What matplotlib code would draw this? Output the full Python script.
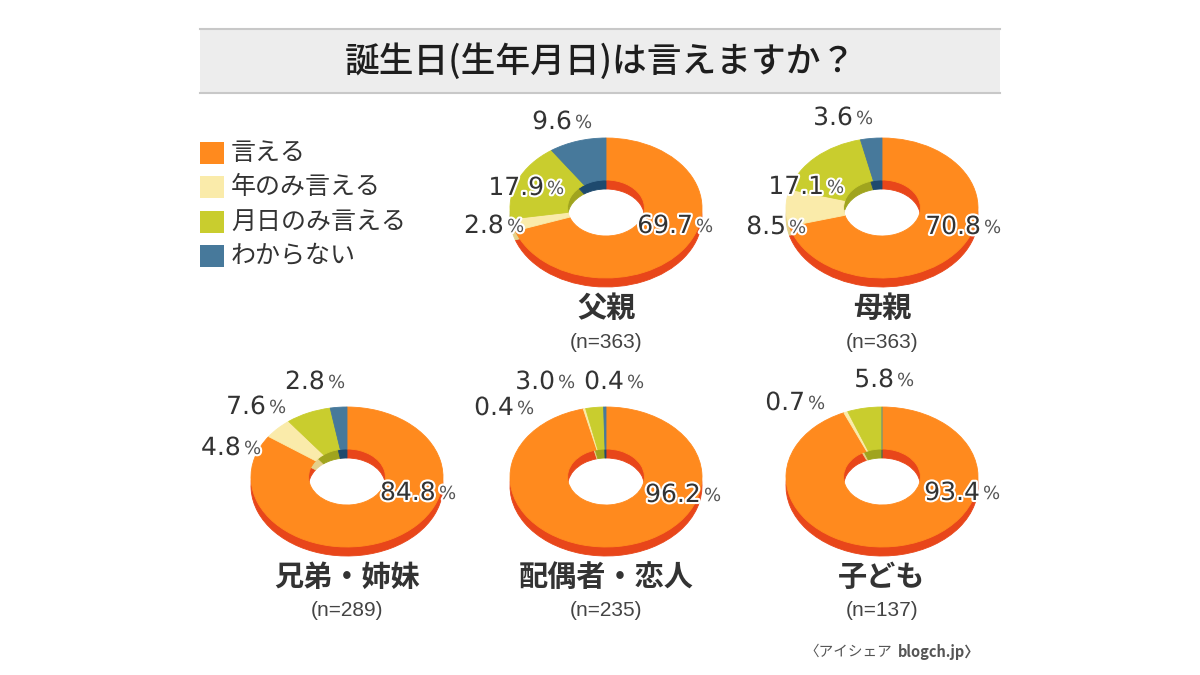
import matplotlib
matplotlib.use("Agg")
import matplotlib.pyplot as plt
import matplotlib.patheffects as pe
from matplotlib.patches import Rectangle

W, H = 1200, 675

# Datos (porcentajes por grupo)
titulo = "誕生日(生年月日)は言えますか？"
categorias = ["言える", "年のみ言える", "月日のみ言える", "わからない"]
grupos = ["父親", "母親", "兄弟・姉妹", "配偶者・恋人", "子ども"]
muestras = [363, 363, 289, 235, 137]
dicen = [69.7, 70.8, 84.8, 96.2, 93.4]
solo_ano = [2.8, 8.5, 4.8, 0.4, 0.7]
solo_mesdia = [17.9, 17.1, 7.6, 3.0, 5.8]
no_sabe = [9.6, 3.6, 2.8, 0.4, 0.0]
fuente_jp = "〈アイシェア"
fuente_web = "blogch.jp〉"

# Colores: cara superior y lateral (efecto 3D)
colores_cara = ["#FF8A1E", "#FAEBAA", "#C9CD2E", "#47799B"]
colores_lado = ["#E8461A", "#E4D08A", "#A0A41E", "#1E4A6E"]

# Posiciones en pixeles
centros = [(606, 208), (882, 208), (347, 477), (606, 477), (882, 477)]
anclas = [
    [(693, 226), (504, 226), (544, 188), (572, 122)],
    [(981, 227), (786, 227), (824, 187), (853, 118)],
    [(436, 493), (241, 448), (266, 407), (325, 382)],
    [(701, 495), (514, 408), (555, 382), (624, 382)],
    [(980, 493), (805, 403), (894, 380), None],
]
RX, RY = 96, 70      # radios de la elipse
PROF = 9             # grosor lateral
CAJA_W, CAJA_H = 220, 180

JP = ["Noto Sans CJK JP", "DejaVu Sans"]
halo = [pe.withStroke(linewidth=3, foreground="white")]


def dibujar_dona(fig, cx, cy, vals):
    ax = fig.add_axes([(cx - CAJA_W / 2) / W, (H - cy - CAJA_H / 2) / H,
                       CAJA_W / W, CAJA_H / H])
    lx = CAJA_W / (2 * RX)
    ly = CAJA_H / (2 * RY)
    for centro, cols in [((0, -PROF / RY), colores_lado), ((0, 0), colores_cara)]:
        cunas, _ = ax.pie(vals, radius=1, center=centro, colors=cols,
                          startangle=90, counterclock=False,
                          wedgeprops=dict(width=0.6, linewidth=0.6))
        for c in cunas:
            c.set_edgecolor(c.get_facecolor())
    ax.set_aspect("auto")
    ax.set_xlim(-lx, lx)
    ax.set_ylim(-ly, ly)
    ax.axis("off")
    return ax


def main():
    fig = plt.figure(figsize=(W / 100, H / 100), dpi=100)
    fig.patch.set_facecolor("white")

    fondo = fig.add_axes([0, 0, 1, 1])
    fondo.set_xlim(0, W)
    fondo.set_ylim(H, 0)
    fondo.axis("off")

    # Caja del titulo
    fondo.add_patch(Rectangle((200, 28), 800, 65, facecolor="#EDEDED",
                              edgecolor="none"))
    fondo.plot([200, 1000], [28.5, 28.5], color="#C8C8C8", lw=1.5)
    fondo.plot([200, 1000], [92.5, 92.5], color="#C8C8C8", lw=1.5)
    fondo.text(600, 62, titulo, ha="center", va="center", fontsize=25,
               family=JP, weight="medium", color="#1E1E1E")

    # Leyenda
    for i, (cat, col) in enumerate(zip(categorias, colores_cara)):
        y = 153 + i * 34.3
        fondo.add_patch(Rectangle((200, y - 11), 24, 22, facecolor=col,
                                  edgecolor="none"))
        fondo.text(231, y, cat, ha="left", va="center", fontsize=18,
                   family=JP, color="#333333")

    series = [dicen, solo_ano, solo_mesdia, no_sabe]
    for g, (cx, cy) in enumerate(centros):
        vals = [s[g] for s in series]
        dibujar_dona(fig, cx, cy, vals)

    # Capa de textos encima de las donas
    capa = fig.add_axes([0, 0, 1, 1])
    capa.set_xlim(0, W)
    capa.set_ylim(H, 0)
    capa.axis("off")
    capa.patch.set_alpha(0)

    for g, (cx, cy) in enumerate(centros):
        vals = [s[g] for s in series]
        for v, pos in zip(vals, anclas[g]):
            if pos is None or v == 0:
                continue
            x, y = pos
            capa.text(x, y, f"{v:.1f}", ha="right", va="center", fontsize=18,
                      family="DejaVu Sans", color="#333333", path_effects=halo)
            capa.text(x + 3, y + 1, "%", ha="left", va="center", fontsize=13,
                      family="DejaVu Sans", color="#555555", path_effects=halo)
        capa.text(cx, cy + 100, grupos[g], ha="center", va="center",
                  fontsize=21, family=JP, weight="bold", color="#333333")
        capa.text(cx, cy + 134, f"(n={muestras[g]})", ha="center", va="center",
                  fontsize=15, family=["Liberation Sans", "DejaVu Sans"],
                  color="#444444")

    capa.text(892, 652, fuente_jp, ha="right", va="center", fontsize=10.5,
              family=JP, color="#555555")
    capa.text(898, 652, fuente_web, ha="left", va="center", fontsize=10.5,
              family=JP, weight="bold", color="#555555")

    fig.savefig("out.png", dpi=100, facecolor="white")


if __name__ == "__main__":
    main()
